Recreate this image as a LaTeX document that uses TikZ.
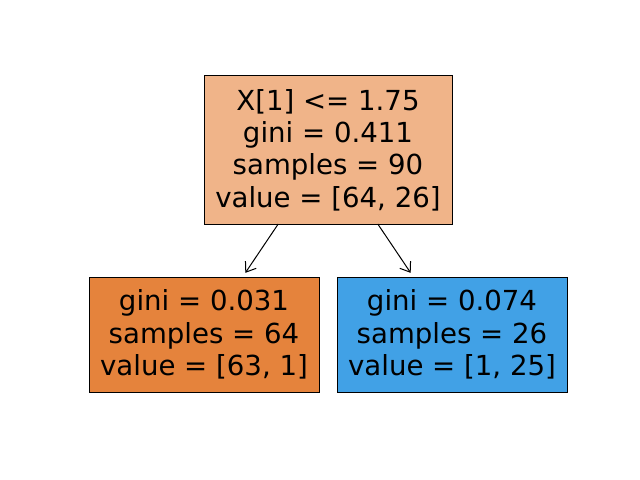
\documentclass[tikz,border=0pt]{standalone}
\usepackage{fontspec}
\setmainfont{DejaVu Sans}
\usetikzlibrary{arrows.meta}
\definecolor{rootc}{RGB}{240,180,137}
\definecolor{leftc}{RGB}{229,131,60}
\definecolor{rightc}{RGB}{65,161,230}
\tikzset{
  treebox/.style={draw=black, line width=1bp, inner sep=0pt, outer sep=0pt, align=center,
    font=\fontsize{27.6bp}{32.4bp}\selectfont},
  arr/.style={draw=black, line width=1bp, -{Straight Barb[length=9bp,width=13bp]}, shorten >=5bp}
}
\begin{document}
\begin{tikzpicture}[x=1bp,y=-1bp]
\useasboundingbox (0,0) rectangle (640,480);
\node[treebox, fill=rootc, minimum width=248bp, minimum height=148bp] (root) at (328,150)
  {X[1] <= 1.75\\gini = 0.411\\samples = 90\\value = [64, 26]};
\node[treebox, fill=leftc, minimum width=230bp, minimum height=115bp] (left) at (204,334.5)
  {gini = 0.031\\samples = 64\\value = [63, 1]};
\node[treebox, fill=rightc, minimum width=230bp, minimum height=115bp] (right) at (452,334.5)
  {gini = 0.074\\samples = 26\\value = [1, 25]};
\draw[arr] (root) -- (left);
\draw[arr] (root) -- (right);
\end{tikzpicture}
\end{document}
